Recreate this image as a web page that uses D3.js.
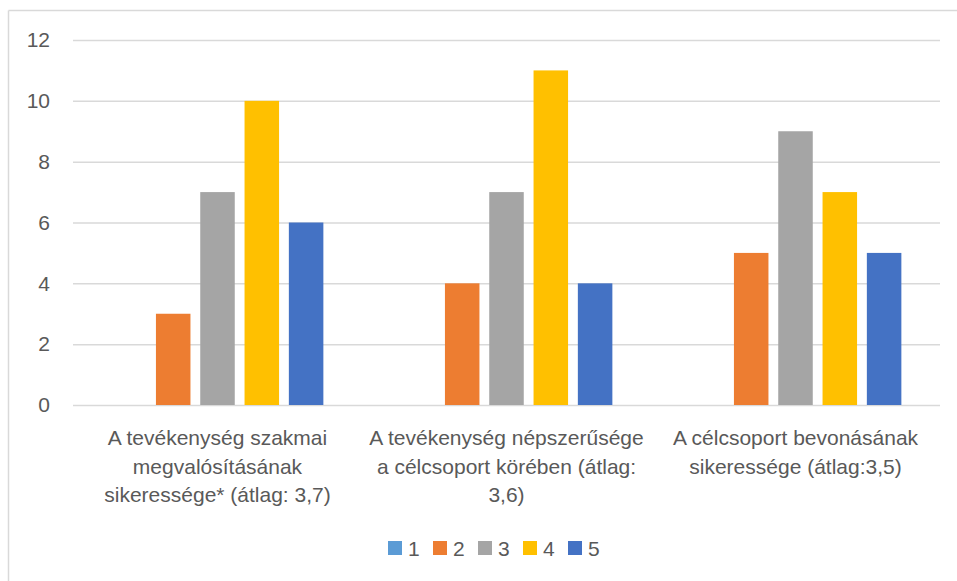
<!DOCTYPE html>
<html>
<head>
<meta charset="utf-8">
<script src="https://cdn.jsdelivr.net/npm/d3@7"></script>
<style>
html,body{margin:0;padding:0;background:#fff;}
svg text{font-family:"Liberation Sans",Arial,sans-serif;}
</style>
</head>
<body>
<svg id="chart" width="957" height="581"></svg>
<script>
const categories = [
  ["A tevékenység szakmai", "megvalósításának", "sikeressége* (átlag: 3,7)"],
  ["A tevékenység népszerűsége", "a célcsoport körében (átlag:", "3,6)"],
  ["A célcsoport bevonásának", "sikeressége (átlag:3,5)"]
];
const seriesNames = ["1", "2", "3", "4", "5"];
const seriesValues = [
  [0, 0, 0],
  [3, 4, 5],
  [7, 7, 9],
  [10, 11, 7],
  [6, 4, 5]
];
const yTicks = [0, 2, 4, 6, 8, 10, 12];
const colors = ["#5B9BD5", "#ED7D31", "#A5A5A5", "#FFC000", "#4472C4"];

const svg = d3.select("#chart");
const plotLeft = 73, plotRight = 940, plotTop = 40, plotBottom = 405;

// border (top and left)
svg.append("line").attr("x1", 8.5).attr("x2", 957).attr("y1", 10.5).attr("y2", 10.5)
  .attr("stroke", "#d9d9d9").attr("stroke-width", 1.5);
svg.append("line").attr("x1", 8.5).attr("x2", 8.5).attr("y1", 10.5).attr("y2", 581)
  .attr("stroke", "#d9d9d9").attr("stroke-width", 1.5);

const x0 = d3.scaleBand().domain(d3.range(categories.length)).range([plotLeft, plotRight]).padding(0);
const x1 = d3.scaleBand().domain(d3.range(seriesNames.length)).range([0, x0.bandwidth()])
  .paddingInner(0.221).paddingOuter(0.872);
const y = d3.scaleLinear().domain([0, 12]).range([plotBottom, plotTop]);

const yAxis = d3.axisLeft(y).tickValues(yTicks).tickSize(-(plotRight - plotLeft)).tickPadding(23).tickFormat(d3.format("d"));
const gy = svg.append("g").attr("transform", `translate(${plotLeft},0)`).call(yAxis);
gy.select(".domain").remove();
gy.selectAll(".tick line").attr("stroke", "#d9d9d9").attr("stroke-width", 1.5);
gy.selectAll(".tick text").attr("fill", "#595959").style("font-size", "21px")
  .style("font-family", '"Liberation Sans", Arial, sans-serif');

// bars
const groups = svg.append("g").selectAll("g").data(seriesValues).join("g")
  .attr("fill", (d, i) => colors[i]);
groups.each(function(vals, si) {
  d3.select(this).selectAll("rect").data(vals).join("rect")
    .attr("x", (v, ci) => x0(ci) + x1(si))
    .attr("width", x1.bandwidth())
    .attr("y", v => y(v))
    .attr("height", v => y(0) - y(v));
});

// category labels
const cl = svg.append("g");
categories.forEach((lines, ci) => {
  const cx = x0(ci) + x0.bandwidth() / 2;
  const t = cl.append("text").attr("x", cx).attr("y", 445).attr("text-anchor", "middle")
    .attr("fill", "#595959").style("font-size", "21px");
  lines.forEach((ln, li) => {
    t.append("tspan").attr("x", cx).attr("y", 445 + li * 28.5).text(ln);
  });
});

// legend
const lx = d3.scaleLinear().domain([0, seriesNames.length - 1]).range([388, 568]);
const lg = svg.append("g").selectAll("g").data(seriesNames).join("g")
  .attr("transform", (d, i) => `translate(${lx(i)},541)`);
lg.append("rect").attr("width", 14).attr("height", 14).attr("fill", (d, i) => colors[i]);
lg.append("text").attr("x", 20).attr("y", 7).attr("dy", "0.36em").attr("fill", "#595959")
  .style("font-size", "21px").text(d => d);
</script>
</body>
</html>
